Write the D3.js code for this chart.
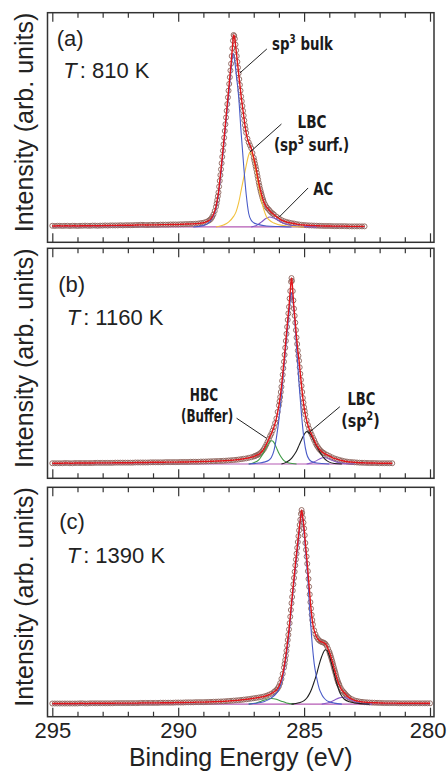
<!DOCTYPE html>
<html>
<head>
<meta charset="utf-8">
<script src="https://cdn.jsdelivr.net/npm/d3@7"></script>
<style>
html, body { margin: 0; padding: 0; background: #fff; }
svg { display: block; }
</style>
</head>
<body>
<script>

//******************************************************************************
//**  Data (binding energy in eV, intensity in arb. units, baseline = 0)
//******************************************************************************

var tickLabels = [295, 290, 285, 280];
var minorTicks = [294, 293, 292, 291, 289, 288, 287, 286, 284, 283, 282, 281];
var panelTags = ["(a)", "(b)", "(c)"];
var temperatures = ["810 K", "1160 K", "1390 K"];

//Panel (a) T = 810 K
var dataA = [[295.0,0.6],[294.9,0.5],[294.8,0.6],[294.7,0.6],[294.6,0.5],[294.5,0.6],[294.4,0.6],[294.3,0.5],[294.2,0.6],[294.1,0.6],[294.0,0.5],[293.9,0.6],[293.8,0.6],[293.7,0.7],[293.6,0.6],[293.5,0.6],[293.4,0.7],[293.3,0.7],[293.2,0.6],[293.1,0.7],[293.0,0.7],[292.9,0.8],[292.8,0.7],[292.7,0.8],[292.6,0.8],[292.5,0.8],[292.4,0.8],[292.3,0.9],[292.2,0.8],[292.1,0.9],[292.0,0.9],[291.9,0.9],[291.8,0.9],[291.7,1.0],[291.6,1.0],[291.5,1.1],[291.4,1.1],[291.3,1.0],[291.2,1.0],[291.1,1.1],[291.0,1.1],[290.9,1.1],[290.8,1.1],[290.7,1.2],[290.6,1.2],[290.5,1.2],[290.4,1.2],[290.3,1.3],[290.2,1.3],[290.1,1.3],[290.0,1.3],[289.9,1.4],[289.8,1.4],[289.7,1.5],[289.6,1.5],[289.5,1.6],[289.4,1.6],[289.3,1.7],[289.2,1.8],[289.1,2.0],[289.0,2.2],[288.9,2.6],[288.8,3.2],[288.75,3.6],[288.7,4.2],[288.65,5.2],[288.6,6.5],[288.55,8.3],[288.5,10.5],[288.475,12.2],[288.45,14],[288.425,16],[288.4,18],[288.375,21],[288.35,24],[288.325,27],[288.3,30],[288.275,33.2],[288.25,36.5],[288.225,39.7],[288.2,43],[288.175,46.5],[288.15,50],[288.125,53.5],[288.1,57],[288.075,60.5],[288.05,64],[288.025,67.5],[288.0,71],[287.975,74.5],[287.95,78],[287.925,81.5],[287.9,85],[287.875,89],[287.85,93],[287.825,97],[287.8,100],[287.775,99.5],[287.75,98],[287.725,95],[287.7,92],[287.675,89],[287.65,86],[287.625,83],[287.6,80],[287.575,77],[287.55,74],[287.525,71],[287.5,68],[287.475,65.5],[287.45,63],[287.425,60.5],[287.4,58],[287.375,55.5],[287.35,53],[287.325,51],[287.3,49],[287.25,46],[287.2,44],[287.15,42.5],[287.1,41],[287.05,38.5],[287.0,36],[286.975,34.5],[286.95,33],[286.925,31.5],[286.9,30],[286.875,28.2],[286.85,26.5],[286.825,24.8],[286.8,23],[286.775,21.5],[286.75,20],[286.725,18.7],[286.7,17.4],[286.675,16.2],[286.65,15],[286.625,14],[286.6,13],[286.55,11.7],[286.5,10.5],[286.45,9.7],[286.4,9],[286.35,8.2],[286.3,7.5],[286.25,7.0],[286.2,6.5],[286.1,5.4],[286.0,4.5],[285.9,3.6],[285.8,3.0],[285.7,2.6],[285.6,2.3],[285.5,2.0],[285.4,1.8],[285.3,1.5],[285.2,1.3],[285.1,1.1],[285.0,1.0],[284.9,0.9],[284.8,0.8],[284.7,0.75],[284.6,0.7],[284.5,0.65],[284.4,0.6],[284.3,0.55],[284.2,0.5],[284.1,0.5],[284.0,0.5],[283.9,0.45],[283.8,0.4],[283.7,0.4],[283.6,0.4],[283.5,0.4],[283.4,0.4],[283.3,0.35],[283.2,0.3],[283.1,0.3],[283.0,0.3],[282.9,0.3],[282.8,0.3],[282.7,0.3],[282.6,0.3]];
var bulkA = [[289.4,0],[289.0,0.7],[288.8,2],[288.7,3.5],[288.6,5.8],[288.5,9.5],[288.4,17],[288.3,28],[288.2,41],[288.1,55],[288.0,68],[287.9,82],[287.82,90.5],[287.75,86],[287.7,80],[287.6,68],[287.5,49],[287.4,32],[287.3,17],[287.2,7],[287.1,3.5],[287.0,2.2],[286.8,1.2],[286.5,0.5],[286.0,0.2],[285.5,0]];
var lbcA = [[288.5,0],[288.2,1],[288.0,2.5],[287.8,5.5],[287.7,8],[287.6,12.5],[287.5,19],[287.4,25.5],[287.3,32],[287.2,37.5],[287.15,39],[287.1,38.5],[287.0,35],[286.9,28],[286.8,21],[286.7,14],[286.6,9],[286.5,5.5],[286.4,3.8],[286.2,2],[286.0,1.1],[285.6,0.4],[285.0,0]];
var acA = [[287.1,0],[286.9,0.8],[286.7,2.5],[286.5,4.5],[286.36,5.2],[286.2,4.6],[286.0,3.2],[285.8,1.8],[285.6,1.0],[285.3,0.5],[285.0,0.2],[284.5,0]];

//Panel (b) T = 1160 K
var dataB = [[295.0,0.4],[294.9,0.4],[294.8,0.4],[294.7,0.4],[294.6,0.4],[294.5,0.5],[294.4,0.5],[294.3,0.4],[294.2,0.4],[294.1,0.5],[294.0,0.5],[293.9,0.5],[293.8,0.5],[293.7,0.5],[293.6,0.5],[293.5,0.5],[293.4,0.5],[293.3,0.6],[293.2,0.6],[293.1,0.6],[293.0,0.6],[292.9,0.6],[292.8,0.6],[292.7,0.6],[292.6,0.6],[292.5,0.7],[292.4,0.7],[292.3,0.7],[292.2,0.7],[292.1,0.7],[292.0,0.7],[291.9,0.7],[291.8,0.7],[291.7,0.8],[291.6,0.8],[291.5,0.8],[291.4,0.8],[291.3,0.8],[291.2,0.8],[291.1,0.9],[291.0,0.9],[290.9,0.9],[290.8,0.9],[290.7,0.9],[290.6,0.9],[290.5,1.0],[290.4,1.0],[290.3,1.0],[290.2,1.0],[290.1,1.0],[290.0,1.0],[289.9,1.1],[289.8,1.1],[289.7,1.1],[289.6,1.1],[289.5,1.2],[289.4,1.2],[289.3,1.2],[289.2,1.2],[289.1,1.3],[289.0,1.3],[288.9,1.35],[288.8,1.4],[288.7,1.45],[288.6,1.5],[288.5,1.55],[288.4,1.6],[288.3,1.65],[288.2,1.7],[288.1,1.8],[288.0,1.9],[287.9,2.0],[287.8,2.1],[287.7,2.25],[287.6,2.4],[287.5,2.6],[287.4,2.8],[287.3,3.0],[287.2,3.3],[287.1,3.6],[287.0,4.0],[286.95,4.3],[286.9,4.6],[286.85,4.9],[286.8,5.2],[286.75,5.7],[286.7,6.3],[286.65,7.1],[286.6,8.0],[286.55,9.2],[286.5,10.5],[286.45,12],[286.4,13.5],[286.35,15],[286.3,16.3],[286.25,18],[286.2,19.8],[286.15,22],[286.1,24.5],[286.05,28],[286.0,31.5],[285.975,33.7],[285.95,36],[285.925,38.7],[285.9,41.5],[285.875,44.7],[285.85,48],[285.825,51.5],[285.8,55],[285.775,58.7],[285.75,62.5],[285.725,66.2],[285.7,70],[285.675,73.7],[285.65,77.5],[285.625,81],[285.6,84.5],[285.575,89],[285.55,93],[285.52,98],[285.5,100],[285.48,98.5],[285.45,93],[285.425,88],[285.4,83.5],[285.375,79.7],[285.35,76],[285.325,72],[285.3,68],[285.275,64.5],[285.25,61],[285.225,58.2],[285.2,55.5],[285.175,52],[285.15,48.5],[285.125,45.2],[285.1,42],[285.075,38.7],[285.05,35.5],[285.025,33],[285.0,30.5],[284.975,28.5],[284.95,26.5],[284.9,23.5],[284.85,21],[284.8,19],[284.75,17.3],[284.7,15.8],[284.65,14.2],[284.6,12.8],[284.55,11.3],[284.5,10],[284.45,9],[284.4,8],[284.35,7.3],[284.3,6.6],[284.25,6.1],[284.2,5.7],[284.1,5],[284.0,4.3],[283.9,3.6],[283.8,3.0],[283.7,2.6],[283.6,2.2],[283.5,1.85],[283.4,1.5],[283.3,1.3],[283.2,1.1],[283.1,1.0],[283.0,0.9],[282.9,0.8],[282.8,0.7],[282.7,0.65],[282.6,0.6],[282.5,0.55],[282.4,0.5],[282.3,0.5],[282.2,0.5],[282.1,0.45],[282.0,0.4],[281.9,0.4],[281.8,0.4],[281.7,0.4],[281.6,0.4],[281.5,0.4]];
var mainB = [[287.2,0],[286.8,0.5],[286.6,1],[286.4,2],[286.3,3.5],[286.2,7],[286.1,14],[286.0,24],[285.9,37],[285.8,52],[285.7,67],[285.6,81],[285.55,88],[285.52,92],[285.48,91],[285.4,82],[285.3,63],[285.2,43],[285.1,26],[285.0,13],[284.9,5.5],[284.8,2.5],[284.7,1.3],[284.5,0.5],[284.0,0]];
var hbcB = [[287.2,0],[287.0,0.7],[286.8,2.2],[286.7,4],[286.6,6.3],[286.5,9],[286.4,11.3],[286.3,12.5],[286.25,12.4],[286.2,11.6],[286.1,8.8],[286.0,5.8],[285.9,3.5],[285.8,1.8],[285.6,0.5],[285.3,0]];
var lbcB = [[285.9,0],[285.7,1],[285.5,3],[285.4,4.8],[285.3,7],[285.2,10],[285.1,13],[285.0,15.8],[284.9,17.4],[284.8,16.8],[284.7,14.8],[284.6,12.2],[284.5,9.5],[284.4,7],[284.3,4.8],[284.2,3],[284.1,1.8],[284.0,1],[283.8,0.3],[283.5,0]];
var smallB = [[284.9,0],[284.7,0.6],[284.5,1.8],[284.35,3],[284.2,3.5],[284.05,3],[283.9,2],[283.7,1],[283.4,0.3],[283.0,0]];

//Panel (c) T = 1390 K
var dataC = [[295.0,0.3],[294.9,0.3],[294.8,0.3],[294.7,0.3],[294.6,0.3],[294.5,0.3],[294.4,0.3],[294.3,0.3],[294.2,0.3],[294.1,0.3],[294.0,0.3],[293.9,0.4],[293.8,0.4],[293.7,0.3],[293.6,0.3],[293.5,0.4],[293.4,0.4],[293.3,0.4],[293.2,0.4],[293.1,0.4],[293.0,0.4],[292.9,0.4],[292.8,0.4],[292.7,0.4],[292.6,0.4],[292.5,0.5],[292.4,0.5],[292.3,0.5],[292.2,0.5],[292.1,0.5],[292.0,0.5],[291.9,0.5],[291.8,0.5],[291.7,0.5],[291.6,0.5],[291.5,0.6],[291.4,0.6],[291.3,0.6],[291.2,0.6],[291.1,0.6],[291.0,0.6],[290.9,0.6],[290.8,0.6],[290.7,0.7],[290.6,0.7],[290.5,0.7],[290.4,0.7],[290.3,0.7],[290.2,0.7],[290.1,0.8],[290.0,0.8],[289.9,0.8],[289.8,0.8],[289.7,0.9],[289.6,0.9],[289.5,0.9],[289.4,0.9],[289.3,1.0],[289.2,1.0],[289.1,1.0],[289.0,1.0],[288.9,1.05],[288.8,1.1],[288.7,1.15],[288.6,1.2],[288.5,1.25],[288.4,1.3],[288.3,1.35],[288.2,1.4],[288.1,1.5],[288.0,1.6],[287.9,1.7],[287.8,1.8],[287.7,1.9],[287.6,2.0],[287.5,2.15],[287.4,2.3],[287.3,2.45],[287.2,2.6],[287.1,2.8],[287.0,3.0],[286.9,3.2],[286.8,3.4],[286.7,3.65],[286.6,3.9],[286.5,4.3],[286.4,4.8],[286.3,5.4],[286.2,6.2],[286.15,6.7],[286.1,7.3],[286.05,8.1],[286.0,9.2],[285.95,10.8],[285.9,13],[285.85,15.6],[285.8,18.8],[285.775,20.7],[285.75,22.7],[285.725,25],[285.7,27.5],[285.675,30.2],[285.65,33],[285.625,35.7],[285.6,38.5],[285.575,41.7],[285.55,45],[285.525,48.5],[285.5,52],[285.475,55.2],[285.45,58.5],[285.425,61.7],[285.4,65],[285.375,68.2],[285.35,71.5],[285.325,74.5],[285.3,77.5],[285.275,80.5],[285.25,83.5],[285.225,86.5],[285.2,89.5],[285.175,92.3],[285.15,95],[285.125,98],[285.1,100],[285.075,98.5],[285.05,96],[285.025,93.5],[285.0,90.5],[284.975,87],[284.95,83],[284.925,79.5],[284.9,76],[284.875,72.3],[284.85,68.5],[284.825,64.5],[284.8,60.5],[284.775,56.5],[284.75,52.5],[284.725,49.2],[284.7,46],[284.675,43.3],[284.65,41],[284.6,38],[284.55,36],[284.5,34.5],[284.45,33.5],[284.4,32.8],[284.35,32.3],[284.3,32],[284.25,31.8],[284.2,31.5],[284.15,31],[284.1,30],[284.05,28.5],[284.0,27],[283.975,26],[283.95,25],[283.925,23.9],[283.9,22.8],[283.875,21.7],[283.85,20.5],[283.825,19.2],[283.8,18],[283.775,16.9],[283.75,15.8],[283.725,14.5],[283.7,13.3],[283.675,12.3],[283.65,11.3],[283.625,10.5],[283.6,9.8],[283.55,8.4],[283.5,7.2],[283.45,6.5],[283.4,5.8],[283.35,5.0],[283.3,4.3],[283.25,3.7],[283.2,3.2],[283.1,2.5],[283.0,1.9],[282.9,1.6],[282.8,1.3],[282.7,1.15],[282.6,1.0],[282.5,0.9],[282.4,0.8],[282.3,0.75],[282.2,0.7],[282.1,0.65],[282.0,0.6],[281.9,0.55],[281.8,0.5],[281.7,0.5],[281.6,0.5],[281.5,0.5],[281.4,0.5],[281.3,0.45],[281.2,0.4],[281.1,0.4],[281.0,0.4],[280.9,0.4],[280.8,0.4],[280.7,0.4],[280.6,0.4],[280.5,0.4],[280.4,0.4],[280.3,0.4],[280.2,0.4],[280.1,0.4],[280.0,0.4]];
var mainC = [[287.2,0],[287.0,0.3],[286.6,1.2],[286.3,3.2],[286.1,5.5],[286.0,7.5],[285.9,11],[285.8,17],[285.7,25.5],[285.6,36],[285.5,50],[285.4,63],[285.3,75.5],[285.2,87.5],[285.14,96.5],[285.1,98],[285.05,95],[285.0,88],[284.9,72.5],[284.84,62],[284.8,53],[284.7,34.5],[284.6,21],[284.5,13.5],[284.4,8],[284.3,5],[284.2,3],[284.1,1.8],[284.0,1.2],[283.8,0.5],[283.5,0]];
var lbcC = [[285.5,0],[285.2,0.7],[285.0,1.8],[284.9,3],[284.8,5],[284.7,7.8],[284.6,11.5],[284.5,15.5],[284.4,20.5],[284.3,24.5],[284.2,27.5],[284.15,28],[284.1,27.8],[284.0,25],[283.9,20.5],[283.8,15.5],[283.7,10.5],[283.6,6.5],[283.5,4],[283.4,2.5],[283.2,1.2],[283.0,0.6],[282.7,0.2],[282.4,0]];
var smallC = [[284.3,0],[284.0,0.8],[283.8,2],[283.6,3.2],[283.45,3.5],[283.3,3],[283.1,1.8],[282.9,0.8],[282.6,0.2],[282.3,0]];
var hbcC = [[287.2,0],[286.9,0.6],[286.7,1.5],[286.5,2.4],[286.3,2.9],[286.1,2.5],[285.9,1.5],[285.7,0.6],[285.4,0]];


//******************************************************************************
//**  Layout
//******************************************************************************
var width = 447, height = 774;
var frame = {left: 47.5, right: 434};
var fontMain = "'Liberation Sans', Arial, Helvetica, sans-serif";
var fontNarrow = "'Liberation Sans Narrow', 'Arial Narrow', 'DejaVu Sans Condensed', sans-serif";

var colors = {
    data: "#8c625a",
    fit: "#e3151a",
    bulk: "#4a5cc8",
    lbcSurf: "#f2c13e",
    ac: "#7d55c7",
    hbc: "#3f9b47",
    lbc: "#1e1e1e",
    small: "#8a5cc8",
    background: "#b45ab4",
    axis: "#333"
};

var panels = [
    {
        top: 12.7, bottom: 242.3, yDomain: [-8.0, 111.6],
        tag: {x: 56.7, dy: 33.3}, temp: {x: 63.3, dy: 65.6},
        data: dataA,
        components: [
            {values: acA, color: colors.ac},
            {values: lbcA, color: colors.lbcSurf},
            {values: bulkA, color: colors.bulk}
        ],
        labels: [
            {parts: ["sp", "3", " bulk"], e: 286.27, i: 92.3, w: 61.7},
            {parts: ["LBC"], e: 285.26, i: 51.6, w: 29},
            {parts: ["(sp", "3", " surf.)"], e: 286.20, i: 39.4, w: 75.3},
            {parts: ["AC"], e: 284.64, i: 16.8, w: 20}
        ],
        leaders: [
            [[286.48, 92.7], [287.55, 80.2]],
            [[285.90, 53.6], [287.15, 39.0]],
            [[284.84, 20.3], [286.00, 5.0]]
        ]
    },
    {
        top: 248.3, bottom: 478.3, yDomain: [-7.7, 116],
        tag: {x: 58.3, dy: 43.7}, temp: {x: 66.7, dy: 76.7},
        data: dataB,
        components: [
            {values: smallB, color: colors.small},
            {values: hbcB, color: colors.hbc},
            {values: lbcB, color: colors.lbc},
            {values: mainB, color: colors.bulk}
        ],
        labels: [
            {parts: ["HBC"], e: 289.54, i: 33.8, w: 28.3},
            {parts: ["(Buffer)"], e: 289.89, i: 22.4, w: 52.3},
            {parts: ["LBC"], e: 283.28, i: 31.7, w: 28},
            {parts: ["(sp", "2", ")"], e: 283.52, i: 20.1, w: 38.3}
        ],
        leaders: [
            [[287.68, 24.6], [286.49, 13.8]],
            [[283.58, 30.8], [284.84, 16.5]]
        ]
    },
    {
        top: 487.3, bottom: 716.7, yDomain: [-6.5, 111.7],
        tag: {x: 59.3, dy: 41.7}, temp: {x: 66.7, dy: 76},
        data: dataC,
        components: [
            {values: hbcC, color: colors.hbc},
            {values: smallC, color: colors.small},
            {values: lbcC, color: colors.lbc},
            {values: mainC, color: colors.bulk}
        ],
        labels: [],
        leaders: []
    }
];


//******************************************************************************
//**  Chart
//******************************************************************************
var svg = d3.select("body").append("svg")
    .attr("width", width)
    .attr("height", height);

var xScale = d3.scaleLinear().domain([295, 280]).range([52.3, 430]);

panels.forEach(function(p, idx){

    var y = d3.scaleLinear().domain(p.yDomain).range([p.bottom, p.top]);
    var g = svg.append("g");
    var byEnergy = function(a, b){ return b[0] - a[0]; };
    p.data.sort(byEnergy);

    var clipId = "clip" + idx;
    svg.append("clipPath").attr("id", clipId)
      .append("rect")
        .attr("x", frame.left).attr("y", p.top)
        .attr("width", frame.right - frame.left)
        .attr("height", p.bottom - p.top);

    var plot = g.append("g").attr("clip-path", "url(#" + clipId + ")");

    var line = d3.line()
        .x(function(d){ return xScale(d[0]); })
        .y(function(d){ return y(d[1]); })
        .curve(d3.curveMonotoneX);


  //Background (flat baseline under the spectrum)
    var ext = d3.extent(p.data, function(d){ return d[0]; });
    plot.append("path")
        .datum([[ext[1], 0], [ext[0], 0]].reverse())
        .attr("d", line)
        .attr("fill", "none")
        .attr("stroke", colors.background)
        .attr("stroke-width", 1.2);


  //Measured points
    plot.append("g").selectAll("circle")
        .data(p.data)
        .enter().append("circle")
        .attr("cx", function(d){ return xScale(d[0]); })
        .attr("cy", function(d){ return y(d[1]); })
        .attr("r", 2.5)
        .attr("fill", "none")
        .attr("stroke", colors.data)
        .attr("stroke-width", 0.9);


  //Fitted components
    p.components.forEach(function(c){
        plot.append("path")
            .datum(c.values)
            .attr("d", line)
            .attr("fill", "none")
            .attr("stroke", c.color)
            .attr("stroke-width", 1.1);
    });


  //Total fit (follows the measured points)
    plot.append("path")
        .datum(p.data)
        .attr("d", line)
        .attr("fill", "none")
        .attr("stroke", colors.fit)
        .attr("stroke-width", 1.4);


  //Frame
    g.append("rect")
        .attr("x", frame.left).attr("y", p.top)
        .attr("width", frame.right - frame.left)
        .attr("height", p.bottom - p.top)
        .attr("fill", "none")
        .attr("stroke", colors.axis)
        .attr("stroke-width", 1.5);


  //Ticks (inside, top and bottom)
    var isLast = idx === panels.length - 1;
    var addAxis = function(axis, ty){
        var a = g.append("g")
            .attr("transform", "translate(0," + ty + ")")
            .call(axis);
        a.select(".domain").remove();
        a.selectAll(".tick line").attr("stroke", colors.axis).attr("stroke-width", 1.2);
        return a;
    };

    addAxis(d3.axisBottom(xScale).tickValues(minorTicks).tickSize(-5).tickFormat(""), p.bottom);
    addAxis(d3.axisTop(xScale).tickValues(minorTicks).tickSize(-5).tickFormat(""), p.top);
    addAxis(d3.axisTop(xScale).tickValues(tickLabels).tickSize(-9).tickFormat(""), p.top);
    var bottomAxis = addAxis(
        d3.axisBottom(xScale).tickValues(tickLabels).tickSize(-9).tickPadding(6)
          .tickFormat(isLast ? d3.format("d") : ""),
        p.bottom
    );
    bottomAxis.selectAll("text")
        .attr("font-family", fontMain)
        .attr("font-size", 22)
        .attr("fill", "#222");

  //keep the last label inside the picture
    bottomAxis.selectAll("text")
        .filter(function(d){ return d === 280; })
        .attr("text-anchor", "end")
        .attr("x", 16);


  //Y axis title
    g.append("text")
        .attr("transform", "translate(33," + ((p.top + p.bottom) / 2 - 5) + ") rotate(-90)")
        .attr("text-anchor", "middle")
        .attr("font-family", fontMain)
        .attr("font-size", 25)
        .attr("fill", "#222")
        .text("Intensity (arb. units)");


  //Panel tag and temperature
    g.append("text")
        .attr("x", p.tag.x).attr("y", p.top + p.tag.dy)
        .attr("font-family", fontMain)
        .attr("font-size", 22)
        .attr("fill", "#222")
        .text(panelTags[idx]);

    var t = g.append("text")
        .attr("x", p.temp.x).attr("y", p.top + p.temp.dy)
        .attr("font-family", fontMain)
        .attr("font-size", 22)
        .attr("fill", "#222");
    t.append("tspan").attr("font-style", "italic").text("T");
    t.append("tspan").attr("dx", 3).text(": " + temperatures[idx]);


  //Leader lines
    p.leaders.forEach(function(l){
        g.append("line")
            .attr("x1", xScale(l[0][0])).attr("y1", y(l[0][1]))
            .attr("x2", xScale(l[1][0])).attr("y2", y(l[1][1]))
            .attr("stroke", "#222")
            .attr("stroke-width", 1);
    });


  //Component labels (bold condensed)
    p.labels.forEach(function(lb){
        var lg = g.append("g")
            .attr("transform", "translate(" + xScale(lb.e) + "," + y(lb.i) + ")");
        var txt = lg.append("text")
            .attr("font-family", fontNarrow)
            .attr("font-weight", "bold")
            .attr("font-size", 18)
            .attr("fill", "#1a1a1a");
        lb.parts.forEach(function(s, k){
            var sp = txt.append("tspan").text(s);
            if (k % 2 === 1) sp.attr("font-size", 12).attr("dy", -7);
            else if (k > 0) sp.attr("dy", 7);
        });
        var bw = txt.node().getBBox().width;
        if (bw > 0) txt.attr("transform", "scale(" + (lb.w / bw) + ",1)");
    });

});


//X axis title
svg.append("text")
    .attr("x", (frame.left + frame.right) / 2)
    .attr("y", 766)
    .attr("text-anchor", "middle")
    .attr("font-family", fontMain)
    .attr("font-size", 25)
    .attr("fill", "#222")
    .text("Binding Energy (eV)");

</script>
</body>
</html>
